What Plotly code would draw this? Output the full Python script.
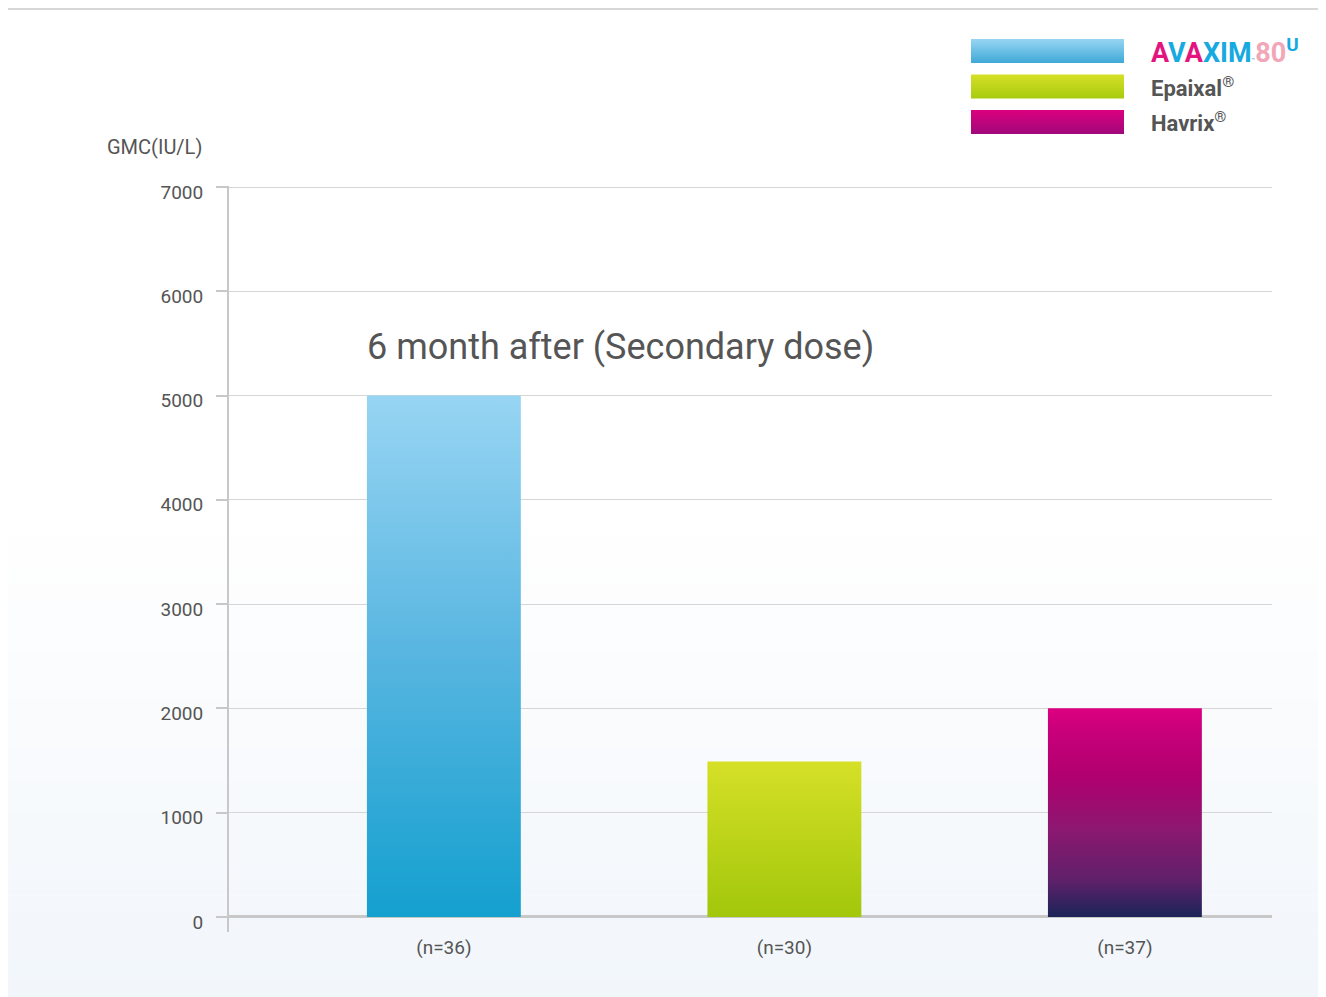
import plotly.graph_objects as go

W, H = 1326, 997
OFF = 8  # page body margin compensation

# ---- data ----
categories = ["(n=36)", "(n=30)", "(n=37)"]
products = ["AVAXIM 80U", "Epaixal®", "Havrix®"]
gmc_values = [5000, 1490, 2000]
y_ticks = [0, 1000, 2000, 3000, 4000, 5000, 6000, 7000]
chart_title = "6 month after (Secondary dose)"
y_title = "GMC(IU/L)"

# ---- styles ----
bar_scales = [
    [[0, "#14A0CF"], [0.5, "#57B5E0"], [1, "#98D5F3"]],
    [[0, "#A2C70B"], [1, "#D5E027"]],
    [[0, "#1B2458"], [0.18, "#60206A"], [0.42, "#8C1870"], [0.67, "#B0006F"], [0.89, "#C8007A"], [1, "#DC0080"]],
]
legend_scales = [
    [[0, "#3EA9D6"], [1, "#98D5F3"]],
    [[0, "#A8CB0E"], [1, "#D5E027"]],
    [[0, "#A0087A"], [1, "#DC007E"]],
]
BAR_W = 0.452
FONT = "Roboto"
GREY = "#555555"
LINE = "#C8C8C8"


def px(x):
    return (x - OFF) / W


def py(y):
    return 1 - (y - OFF) / H


fig = go.Figure()

# bars with vertical gradient fills
for i, (v, cs) in enumerate(zip(gmc_values, bar_scales)):
    x0, x1 = i - BAR_W / 2, i + BAR_W / 2
    fig.add_trace(go.Scatter(
        x=[x0, x1, x1, x0, x0], y=[0, 0, v, v, 0],
        mode="lines", line=dict(width=0), fill="toself",
        fillgradient=dict(type="vertical", colorscale=cs),
        hoverinfo="skip", showlegend=False, xaxis="x", yaxis="y",
    ))

# legend swatches on an overlay axis
for k, cs in enumerate(legend_scales):
    y0 = 2 - k
    fig.add_trace(go.Scatter(
        x=[0, 1, 1, 0, 0], y=[y0, y0, y0 + 0.68, y0 + 0.68, y0],
        mode="lines", line=dict(width=0), fill="toself",
        fillgradient=dict(type="vertical", colorscale=cs),
        hoverinfo="skip", showlegend=False, xaxis="x2", yaxis="y2",
    ))

shapes = []
# card shadow
for d, a in [(8, 0.03), (5, 0.05), (2, 0.08)]:
    shapes.append(dict(type="rect", xref="paper", yref="paper", layer="below",
                       x0=px(8 - d), x1=px(1323 + d), y0=-0.1, y1=py(10 - d),
                       fillcolor=f"rgba(0,0,0,{a})", line=dict(width=0)))
shapes.append(dict(type="rect", xref="paper", yref="paper", layer="below",
                   x0=px(8), x1=px(1323), y0=-0.1, y1=py(10),
                   fillcolor="#FFFFFF", line=dict(width=0)))
# subtle bottom gradient on the card
n = 30
top_px, bot_px = 520, 1010
for s in range(n):
    ya = top_px + (bot_px - top_px) * s / n
    yb = top_px + (bot_px - top_px) * (s + 1) / n
    t = (s + 1) / n
    shapes.append(dict(type="rect", xref="paper", yref="paper", layer="below",
                       x0=px(8), x1=px(1323), y0=py(yb), y1=py(ya),
                       fillcolor=f"rgba(232,240,248,{0.6 * t:.3f})", line=dict(width=0)))

annotations = [
    dict(text=chart_title, x=px(365), y=py(347), xref="paper", yref="paper",
         xanchor="left", yanchor="middle", showarrow=False,
         font=dict(family=FONT, size=36, color=GREY)),
    dict(text=y_title, x=px(204), y=py(147), xref="paper", yref="paper",
         xanchor="right", yanchor="middle", showarrow=False,
         font=dict(family=FONT, size=20, color=GREY)),
    dict(text=("<b><span style='color:#E4147F'>A</span><span style='color:#17A9E1'>V</span>"
               "<span style='color:#E4147F'>A</span><span style='color:#17A9E1'>XIM</span></b>"
               "<span style='color:#17A9E1;font-size:6px'>™</span>"
               "<b><span style='color:#F2A7B8'>80</span></b>"
               "<sup><b><span style='color:#17A9E1'>U</span></b></sup>"),
         x=px(1149), y=py(51), xref="paper", yref="paper",
         xanchor="left", yanchor="middle", showarrow=False,
         font=dict(family="Roboto", size=27, color="#17A9E1")),
]
for label, yy in zip(products[1:], [87, 122]):
    annotations.append(dict(
        text=f"<b>{label[:-1]}</b><sup>®</sup>", x=px(1149), y=py(yy),
        xref="paper", yref="paper", xanchor="left", yanchor="middle",
        showarrow=False, font=dict(family=FONT, size=22, color=GREY)))

fig.update_layout(
    width=W, height=H,
    margin=dict(l=0, r=0, t=0, b=0),
    paper_bgcolor="#FFFFFF", plot_bgcolor="rgba(0,0,0,0)",
    showlegend=False,
    xaxis=dict(domain=[px(229), px(1272)], range=[-0.631, 2.432],
               tickvals=[0, 1, 2], ticktext=categories,
               showgrid=False, zeroline=False, showline=False, ticks="",
               ticklabelstandoff=2,
               tickfont=dict(family=FONT, size=19, color=GREY),
               fixedrange=True, automargin=False),
    yaxis=dict(domain=[py(932), py(186)], range=[-145, 7010],
               tickvals=y_ticks, ticktext=[str(t) for t in y_ticks],
               showgrid=True, gridcolor="#D6D6D6", gridwidth=1,
               zeroline=True, zerolinecolor=LINE, zerolinewidth=3,
               showline=True, linecolor=LINE, linewidth=2,
               ticks="outside", ticklen=11, tickcolor=LINE, tickwidth=2,
               ticklabelstandoff=9, ticklabelshift=5,
               tickfont=dict(family=FONT, size=19, color=GREY),
               fixedrange=True, automargin=False),
    xaxis2=dict(domain=[px(971), px(1124)], range=[0, 1], visible=False,
                anchor="y2", fixedrange=True),
    yaxis2=dict(domain=[py(134), py(39)], range=[0, 2.68], visible=False,
                anchor="x2", fixedrange=True),
    shapes=shapes,
    annotations=annotations,
)

fig.write_html("out.html")
